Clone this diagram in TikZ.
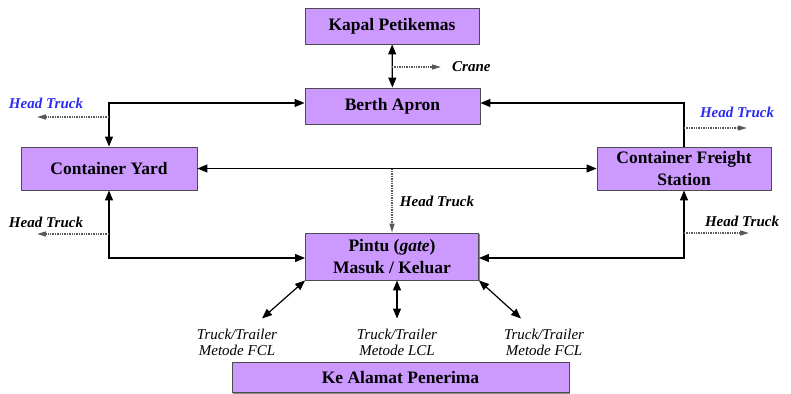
\documentclass[tikz,border=0pt]{standalone}
\usepackage{fontspec}
\setmainfont{Liberation Serif}
\usetikzlibrary{arrows.meta,shadows}
\definecolor{boxfill}{HTML}{CC99FF}
\definecolor{htblue}{HTML}{2B2BF2}
\tikzset{
  box/.style={draw=black!70, fill=boxfill, line width=0.9pt, inner sep=0pt, align=center,
    font=\bfseries\fontsize{17.5}{22}\selectfont,
    drop shadow={shadow xshift=1.2pt, shadow yshift=-1.2pt, fill=black!45, opacity=1}},
  lbl/.style={font=\bfseries\itshape\fontsize{15}{17}\selectfont, inner sep=1pt},
  tlbl/.style={font=\itshape\fontsize{15}{16}\selectfont, align=center, inner sep=0pt},
  arr/.style={-{Triangle[length=10pt,width=8pt]}, line width=1.2pt},
  dbl/.style={{Triangle[length=10pt,width=8pt]}-{Triangle[length=10pt,width=8pt]}, line width=1.2pt},
  dots/.style={densely dotted, -{Triangle[length=9pt,width=5pt]}, line width=1.4pt, black!65},
}
\begin{document}
\begin{tikzpicture}[x=1pt,y=-1pt]
  \useasboundingbox (0,0) rectangle (791,393);
  \node[box, minimum width=174pt, minimum height=36pt] (kapal) at (392,26) {Kapal Petikemas};
  \node[box, minimum width=175pt, minimum height=36pt] (berth) at (392.5,106) {Berth Apron};
  \node[box, minimum width=176pt, minimum height=43pt] (yard) at (109,168.5) {Container Yard};
  \node[box, minimum width=174pt, minimum height=43pt] (cfs) at (684,168.5) {Container Freight\\Station};
  \node[box, minimum width=173pt, minimum height=47pt] (gate) at (392,256.5) {Pintu (\textit{gate})\\Masuk / Keluar};
  \node[box, minimum width=337pt, minimum height=30pt] (penerima) at (400.5,377.5) {Ke Alamat Penerima};

  \node[lbl, anchor=west] (crane) at (451,67) {Crane};
  \node[lbl, text=htblue] (ht1) at (46,103) {Head Truck};
  \node[lbl] (ht2) at (46,222) {Head Truck};
  \node[lbl] (ht3) at (437,201) {Head Truck};
  \node[lbl, text=htblue] (ht4) at (737,112) {Head Truck};
  \node[lbl] (ht5) at (742,221) {Head Truck};
  \node[tlbl] (tt1) at (237,342) {Truck/Trailer\\Metode FCL};
  \node[tlbl] (tt2) at (397,342) {Truck/Trailer\\Metode LCL};
  \node[tlbl] (tt3) at (544,342) {Truck/Trailer\\Metode FCL};

  \coordinate (c1) at (392,67);
  \coordinate (c2) at (441,67);
  \coordinate (h1) at (37,117);
  \coordinate (h2) at (37,234);
  \coordinate (h4) at (747,128);
  \coordinate (h5) at (749,233);

  \begin{scope}
    \draw[dbl] (kapal) -- (berth);
    \draw[dbl] (yard.north) |- ([yshift=3pt]berth.west);
    \draw[arr] (cfs.north) |- ([yshift=3pt]berth.east);
    \draw[dbl] (yard) -- (cfs);
    \draw[dbl] (yard.south) |- ([yshift=-1.5pt]gate.west);
    \draw[dbl] (cfs.south) |- ([yshift=-1.5pt]gate.east);
    \draw[dbl] (gate.south west) -- ([xshift=25pt,yshift=10pt]tt1.north);
    \draw[dbl] (tt2.north |- gate.south) -- ([yshift=10pt]tt2.north);
    \draw[dbl] (gate.south east) -- ([xshift=-23pt,yshift=10pt]tt3.north);
  \end{scope}
  \begin{scope}
    \draw[dots] (c1) -- (c2);
    \draw[dots] (yard.north |- h1) -- (h1);
    \draw[dots] (yard.south |- h2) -- (h2);
    \draw[dots] (cfs.north |- h4) -- (h4);
    \draw[dots] (cfs.south |- h5) -- (h5);
    \draw[dots] (gate.north |- yard.east) -- (gate.north);
  \end{scope}
\end{tikzpicture}
\end{document}
